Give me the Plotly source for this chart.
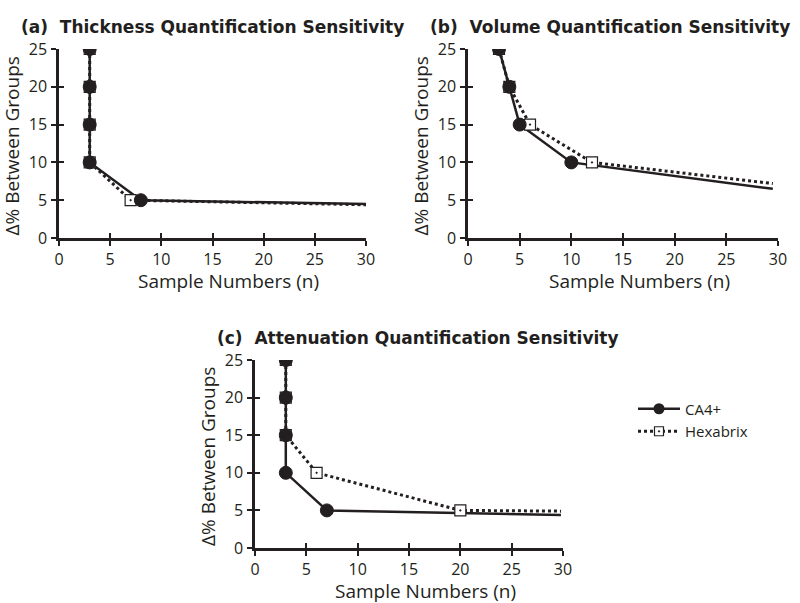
import plotly.graph_objects as go

# Panel (a) Thickness
a_ca4_x = [3, 3, 3, 3, 8, 30]
a_ca4_y = [25, 20, 15, 10, 5, 4.5]
a_hex_x = [3, 3, 3, 3, 7, 30]
a_hex_y = [25, 20, 15, 10, 5, 4.4]

# Panel (b) Volume
b_ca4_x = [3, 4, 5, 10, 29.5]
b_ca4_y = [25, 20, 15, 10, 6.5]
b_hex_x = [3, 4, 6, 12, 29.5]
b_hex_y = [25, 20, 15, 10, 7.2]

# Panel (c) Attenuation
c_ca4_x = [3, 3, 3, 3, 7, 29.8]
c_ca4_y = [25, 20, 15, 10, 5, 4.4]
c_hex_x = [3, 3, 3, 6, 20, 29.8]
c_hex_y = [25, 20, 15, 10, 5, 4.9]

titles = ["(a)  Thickness Quantification Sensitivity",
          "(b)  Volume Quantification Sensitivity",
          "(c)  Attenuation Quantification Sensitivity"]
x_ticks = [0, 5, 10, 15, 20, 25, 30]
y_ticks = [0, 5, 10, 15, 20, 25]
x_title = "Sample Numbers (n)"
y_title = "Δ% Between Groups"

W, H = 800, 603
def px(x): return x / W
def py(y): return 1 - y / H

# plot boxes in pixels (left, right, top, bottom)
boxes = [(59, 366, 49, 238), (468, 778, 49, 238), (255, 563, 360, 548)]

INK = "#231f20"
TFONT = "Open Sans"
fig = go.Figure()
data = [(a_ca4_x, a_ca4_y, a_hex_x, a_hex_y),
        (b_ca4_x, b_ca4_y, b_hex_x, b_hex_y),
        (c_ca4_x, c_ca4_y, c_hex_x, c_hex_y)]

layout = dict(width=W, height=H, margin=dict(l=0, r=0, t=0, b=0, autoexpand=False),
              paper_bgcolor="white", plot_bgcolor="white",
              font=dict(family=TFONT, color=INK))
annotations = []
for i, (box, d) in enumerate(zip(boxes, data)):
    n = i + 1
    sfx = "" if n == 1 else str(n)
    xa, ya = "x" + sfx, "y" + sfx
    xo, yo = f"x{n + 3}", f"y{n + 3}"
    cx, cy, hx, hy = d
    fig.add_trace(go.Scatter(x=hx, y=hy, mode="lines", name="Hexabrix",
                             xaxis=xa, yaxis=ya, showlegend=False,
                             line=dict(color=INK, width=3, dash="dot")))
    fig.add_trace(go.Scatter(x=cx, y=cy, mode="lines", name="CA4+",
                             xaxis=xa, yaxis=ya, showlegend=False,
                             line=dict(color=INK, width=2.5)))
    # markers (the last point of each series is an open end without marker)
    fig.add_trace(go.Scatter(x=hx[:-1], y=hy[:-1], mode="markers", name="Hexabrix",
                             xaxis=xa, yaxis=ya, showlegend=False,
                             marker=dict(symbol="square-dot", size=11, color="white", opacity=1,
                                         line=dict(color=INK, width=1.2))))
    fig.add_trace(go.Scatter(x=cx[:-1], y=cy[:-1], mode="markers", name="CA4+",
                             xaxis=xa, yaxis=ya, showlegend=False,
                             marker=dict(symbol="circle", size=13, color=INK, opacity=1,
                                         line=dict(color=INK, width=1))))
    # dummy trace so the overlay axes (inner half of the crossing ticks) are drawn
    fig.add_trace(go.Scatter(x=[None], y=[None], xaxis=xo, yaxis=yo, showlegend=False,
                             hoverinfo="skip"))
    l, r, t, b = box
    axcommon = dict(showgrid=False, zeroline=False, showline=True, linewidth=2.5,
                    linecolor=INK, ticks="outside", ticklen=5, tickwidth=2, automargin=False,
                    tickcolor=INK, tickfont=dict(size=16, family=TFONT, color=INK),
                    fixedrange=True)
    layout["xaxis" + sfx] = dict(axcommon, domain=[px(l), px(r)], range=[0, 30],
                                 tickvals=x_ticks, anchor=ya, ticklabelstandoff=0)
    layout["yaxis" + sfx] = dict(axcommon, domain=[py(b), py(t)], range=[0, 25],
                                 tickvals=y_ticks, anchor=xa, ticklabelstandoff=1)
    inner = dict(showgrid=False, zeroline=False, showline=False, ticks="inside", ticklen=5,
                 tickwidth=2, tickcolor=INK, showticklabels=False, automargin=False,
                 fixedrange=True)
    layout[f"xaxis{n + 3}"] = dict(inner, overlaying=xa, anchor=yo, range=[0, 30],
                                   tickvals=x_ticks)
    layout[f"yaxis{n + 3}"] = dict(inner, overlaying=ya, anchor=xo, range=[0, 25],
                                   tickvals=y_ticks)
    annotations.append(dict(text=f"<b>{titles[i]}</b>", xref="paper", yref="paper",
                            x=px(l - 40), y=py(t - 22), xanchor="left", yanchor="middle",
                            showarrow=False, font=dict(size=17, family="DejaVu Sans", color=INK)))
    annotations.append(dict(text=x_title, xref="paper", yref="paper",
                            x=px((l + r) / 2 + 16), y=py(b + 43), xanchor="center", yanchor="middle",
                            showarrow=False, font=dict(size=19, family=TFONT, color=INK)))
    annotations.append(dict(text=y_title, xref="paper", yref="paper", textangle=-90,
                            x=px(l - 47), y=py((t + b) / 2 + 3), xanchor="center", yanchor="middle",
                            showarrow=False, font=dict(size=19, family=TFONT, color=INK)))

# legend entries
fig.add_trace(go.Scatter(x=[None], y=[None], mode="lines+markers", name="CA4+",
                         xaxis="x3", yaxis="y3",
                         line=dict(color=INK, width=2.5),
                         marker=dict(symbol="circle", size=11, color=INK)))
fig.add_trace(go.Scatter(x=[None], y=[None], mode="lines+markers", name="Hexabrix",
                         xaxis="x3", yaxis="y3",
                         line=dict(color=INK, width=3, dash="dot"),
                         marker=dict(symbol="square-dot", size=9, color="white",
                                     line=dict(color=INK, width=1.2))))

layout["annotations"] = annotations
layout["legend"] = dict(x=px(633), y=py(420), xanchor="left", yanchor="middle",
                        font=dict(size=15, family=TFONT, color=INK), itemwidth=42,
                        bgcolor="rgba(0,0,0,0)", tracegroupgap=0)
layout["showlegend"] = True
fig.update_layout(**layout)
fig.write_html("out.html", config={"displayModeBar": False},
               post_script="document.body.style.margin='0';")
